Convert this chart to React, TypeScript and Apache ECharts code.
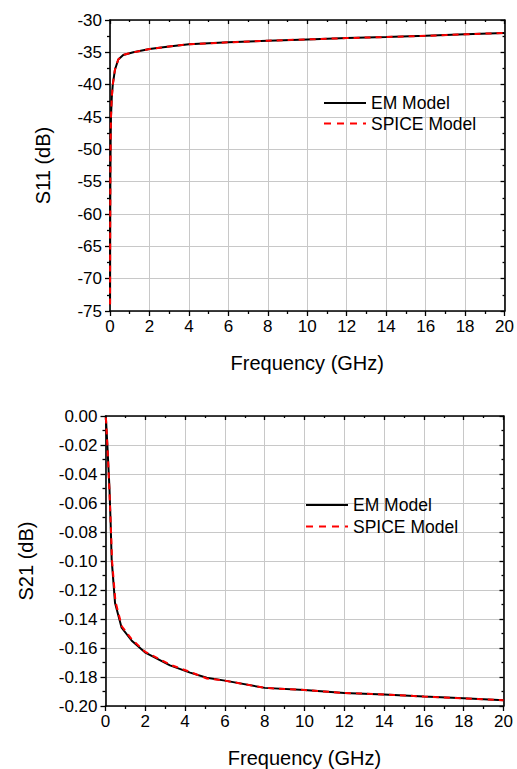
import React, { useEffect, useRef } from "react";
import * as echarts from "echarts";

const FONT = "Liberation Sans, Arial, sans-serif";

// S11 chart data (frequency GHz, dB)
const s11Em: [number, number][] = [
  [0.003, -74], [0.01, -62], [0.02, -54], [0.035, -48], [0.05, -45], [0.09, -42],
  [0.14, -40], [0.25, -37.7], [0.42, -36.1], [0.67, -35.4], [1.18, -35.0], [2, -34.5],
  [3, -34.1], [4, -33.75], [6, -33.45], [8, -33.2], [10, -33.0], [12, -32.8],
  [14, -32.63], [16, -32.45], [18, -32.22], [20, -32.0],
];
const s11Spice: [number, number][] = [
  [0.003, -74], [0.01, -62], [0.02, -54], [0.035, -48], [0.05, -45], [0.09, -42],
  [0.14, -40], [0.25, -37.7], [0.42, -36.1], [0.67, -35.4], [1.18, -35.0], [2, -34.5],
  [3, -34.1], [4, -33.75], [6, -33.45], [8, -33.2], [10, -33.0], [12, -32.8],
  [14, -32.63], [16, -32.45], [18, -32.22], [20, -32.0],
];

// S21 chart data (frequency GHz, dB)
const s21Em: [number, number][] = [
  [0.02, -0.001], [0.1, -0.022], [0.2, -0.05], [0.26, -0.075], [0.31, -0.099],
  [0.48, -0.129], [0.81, -0.146], [1.32, -0.155], [1.98, -0.163], [3.24, -0.172],
  [4.25, -0.177], [5.09, -0.1805], [6.0, -0.1825], [8.0, -0.1875], [10, -0.189],
  [12, -0.191], [14, -0.192], [16, -0.1935], [18, -0.1947], [20, -0.196],
];
const s21Spice: [number, number][] = [
  [0.02, -0.001], [0.1, -0.022], [0.2, -0.052], [0.27, -0.077], [0.33, -0.1],
  [0.5, -0.128], [0.82, -0.145], [1.32, -0.154], [1.98, -0.1625], [3.24, -0.1715],
  [4.25, -0.1765], [5.09, -0.181], [6.0, -0.1825], [8.0, -0.1875], [10, -0.189],
  [12, -0.191], [14, -0.192], [16, -0.1935], [18, -0.1947], [20, -0.196],
];

const xMin = 0, xMax = 20, xStep = 2;
const s11Min = -75, s11Max = -30, s11Step = 5;
const s21Min = -0.2, s21Max = 0, s21Step = 0.02;

const seriesNames = ["EM Model", "SPICE Model"];

export default function App() {
  const ref = useRef<HTMLDivElement>(null);
  useEffect(() => {
    document.body.style.margin = "0";
    if (!ref.current) return;
    const chart = echarts.init(ref.current, null, { renderer: "svg" });
    const axisLine = { show: true, onZero: false, lineStyle: { color: "#000", width: 1.6 } };
    const labelStyle = { color: "#000", fontSize: 17, fontFamily: FONT };
    const titleStyle = { color: "#000", fontSize: 20, fontFamily: FONT };
    const splitLine = { show: true, lineStyle: { color: "#c8c8c8", width: 1 } };
    const mainX = (gridIndex: number) => ({
      type: "value", gridIndex, min: xMin, max: xMax, interval: xStep,
      axisLine, axisTick: { show: true, length: 5, lineStyle: { color: "#000", width: 1.3 } },
      minorTick: { show: true, splitNumber: 2, length: 3, lineStyle: { color: "#000", width: 1.3 } },
      axisLabel: { ...labelStyle, margin: 7 },
      splitLine,
      name: "Frequency (GHz)", nameLocation: "middle", nameGap: 42,
      nameTextStyle: titleStyle,
    });
    const topX = (gridIndex: number) => ({
      type: "value", gridIndex, position: "top", min: xMin, max: xMax, interval: xStep,
      axisLine, axisTick: { show: true, inside: true, length: 4, lineStyle: { color: "#000", width: 1.3 } },
      minorTick: { show: true, splitNumber: 2, length: 2, lineStyle: { color: "#000", width: 1.3 } },
      axisLabel: { show: false }, splitLine: { show: false },
    });
    const mainY = (gridIndex: number, min: number, max: number, interval: number, name: string, gap: number, fmt: (v: number) => string) => ({
      type: "value", gridIndex, min, max, interval,
      axisLine, axisTick: { show: true, length: 5, lineStyle: { color: "#000", width: 1.3 } },
      minorTick: { show: true, splitNumber: 2, length: 3, lineStyle: { color: "#000", width: 1.3 } },
      axisLabel: { ...labelStyle, margin: 8, formatter: fmt },
      splitLine,
      name, nameLocation: "middle", nameGap: gap, nameRotate: 90,
      nameTextStyle: titleStyle,
    });
    const rightY = (gridIndex: number, min: number, max: number, interval: number) => ({
      type: "value", gridIndex, position: "right", min, max, interval,
      axisLine, axisTick: { show: true, inside: true, length: 4, lineStyle: { color: "#000", width: 1.3 } },
      minorTick: { show: true, splitNumber: 2, length: 2, lineStyle: { color: "#000", width: 1.3 } },
      axisLabel: { show: false }, splitLine: { show: false },
    });
    const emLine = (xi: number, yi: number, data: [number, number][]) => ({
      type: "line", name: seriesNames[0], xAxisIndex: xi, yAxisIndex: yi, data,
      showSymbol: false, symbol: "none", lineStyle: { color: "#000", width: 2 }, itemStyle: { color: "#000" }, z: 3,
    });
    const spLine = (xi: number, yi: number, data: [number, number][]) => ({
      type: "line", name: seriesNames[1], xAxisIndex: xi, yAxisIndex: yi, data,
      showSymbol: false, symbol: "none", lineStyle: { color: "#ff0000", width: 2, type: [6, 5] }, itemStyle: { color: "#ff0000" }, z: 4,
    });
    const legend = (top: number, left: number, gap: number) => ({
      orient: "vertical", top, left, itemWidth: 42, itemHeight: 14, itemGap: gap,
      data: [
        { name: seriesNames[0], lineStyle: { color: "#000", width: 2, type: "solid" } },
        { name: seriesNames[1], lineStyle: { color: "#ff0000", width: 2, type: [7, 6] } },
      ],
      itemStyle: { opacity: 0 },
      textStyle: { color: "#000", fontSize: 17.5, fontFamily: FONT },
      selectedMode: false,
    });
    chart.setOption({
      animation: false,
      backgroundColor: "#fff",
      grid: [
        { left: 110, right: 11, top: 20, height: 291 },
        { left: 105.5, right: 13.5, top: 416, height: 291 },
      ],
      xAxis: [mainX(0), topX(0), mainX(1), topX(1)],
      yAxis: [
        mainY(0, s11Min, s11Max, s11Step, "S11 (dB)", 57.5, (v: number) => String(Math.round(v))),
        rightY(0, s11Min, s11Max, s11Step),
        mainY(1, s21Min, s21Max, s21Step, "S21 (dB)", 69.5, (v: number) => v.toFixed(2)),
        rightY(1, s21Min, s21Max, s21Step),
      ],
      legend: [legend(89, 318, 2.5), legend(491, 300, 3.5)],
      series: [
        emLine(0, 0, s11Em), spLine(0, 0, s11Spice),
        emLine(2, 2, s21Em), spLine(2, 2, s21Spice),
      ],
    } as any);
    return () => chart.dispose();
  }, []);
  return <div ref={ref} style={{ width: 517, height: 769 }} />;
}
